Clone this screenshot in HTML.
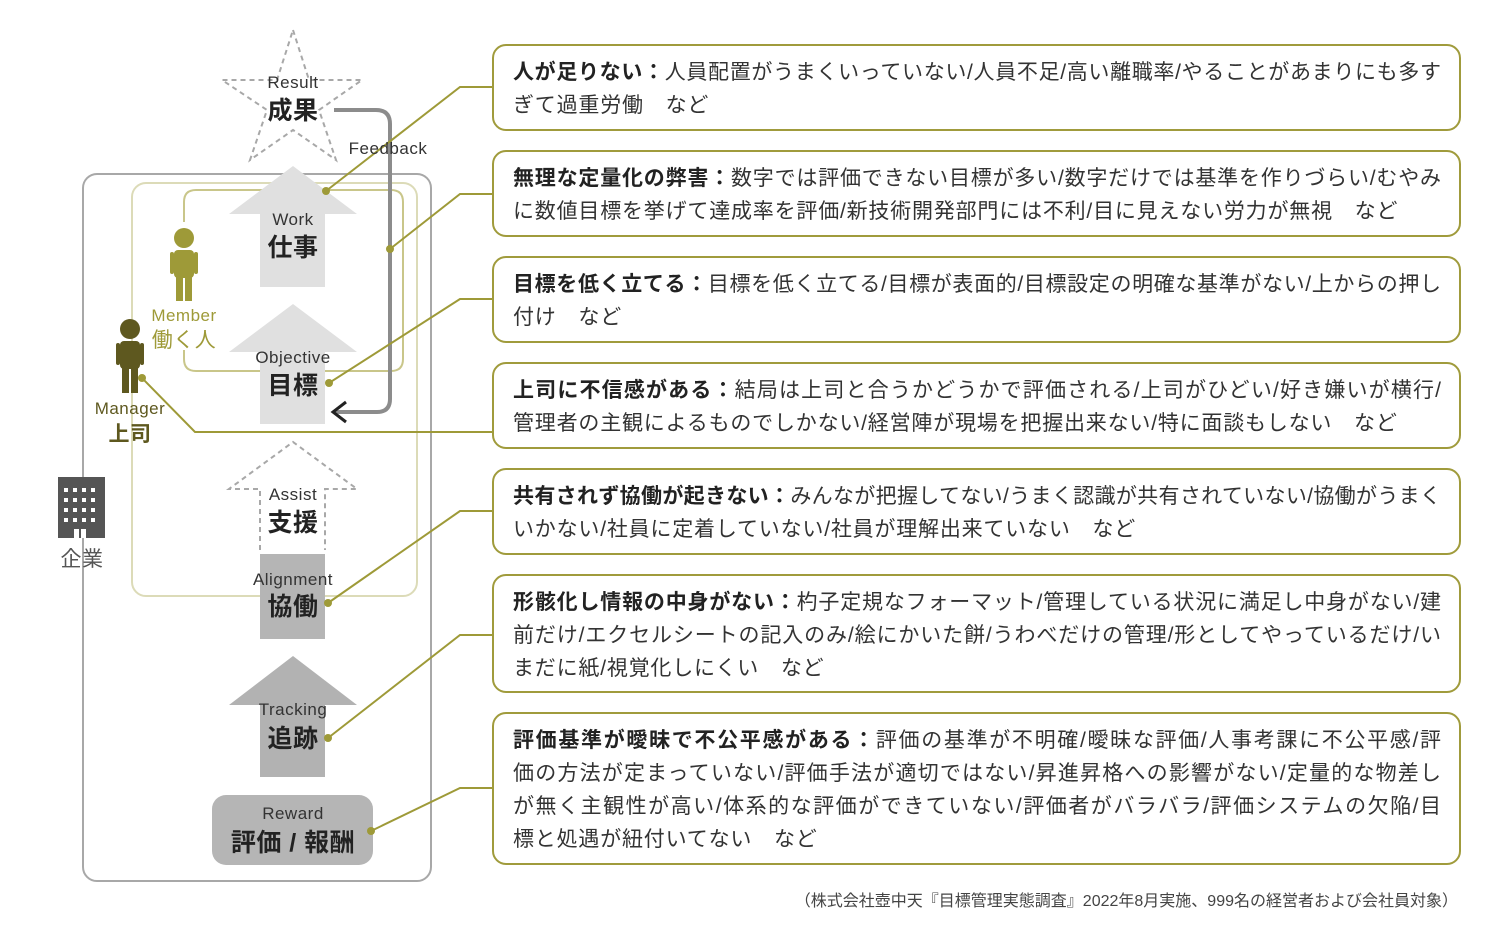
<!DOCTYPE html>
<html><head><meta charset="utf-8"><style>
body{margin:0;width:1510px;height:938px;background:#fff;position:relative;overflow:hidden;font-family:"Liberation Sans","Noto Sans CJK JP",sans-serif;color:#333}
.box{position:absolute;left:492px;width:969px;border:2px solid #a09b3c;border-radius:14px;box-sizing:border-box}
.box .t{position:absolute;left:19px;right:18px;top:10px;font-size:21px;line-height:33px}
.l{white-space:nowrap;text-align:justify;text-align-last:justify;height:33px}
.l.e{text-align-last:left;letter-spacing:0.8px}
b{color:#222;font-weight:bold}
svg{position:absolute;left:0;top:0}
.fn{position:absolute;right:52px;top:887px;font-size:16px;color:#444}
</style></head><body>
<svg width="1510" height="938" font-family="Liberation Sans, Noto Sans CJK JP, sans-serif">
<rect x="83" y="174" width="348" height="707" rx="14" fill="none" stroke="#a8a8a8" stroke-width="2"/>
<rect x="132" y="183" width="285" height="413" rx="14" fill="none" stroke="#dcdbb8" stroke-width="2"/>
<path d="M184 222 V202 Q184 190 196 190 H391 Q403 190 403 202 V359 Q403 371 391 371 H196 Q184 371 184 359 V350" fill="none" stroke="#c9c68a" stroke-width="2"/>
<polygon points="293,30 309,80 362,80 319,110 336,160 293,130 250,160 267,110 222,80 277,80" fill="#fff" stroke="#a8a8a8" stroke-width="2" stroke-dasharray="5,4"/>
<polygon points="293,166 357,214 325,214 325,287 260,287 260,214 229,214" fill="#e0e0e0"/>
<polygon points="293,304 357,352 325,352 325,424 260,424 260,352 229,352" fill="#e0e0e0"/>
<polyline points="260,550 260,489 229,489 293,442 357,489 325,489 325,550" fill="none" stroke="#a8a8a8" stroke-width="2" stroke-dasharray="5,4"/>
<rect x="260" y="554" width="65" height="85" fill="#b5b5b5"/>
<polygon points="293,656 357,705 325,705 325,777 260,777 260,705 229,705" fill="#b2b2b2"/>
<rect x="212" y="795" width="161" height="70" rx="14" fill="#b5b5b5"/>
<path d="M334 110 H376 Q390 110 390 124 V399 Q390 412 377 412 H335" fill="none" stroke="#8c8c8c" stroke-width="4"/>
<polyline points="346,402 333,412 346,422" fill="none" stroke="#222" stroke-width="3"/>
<g fill="#9e9a38">
<circle cx="184" cy="238" r="10"/>
<rect x="174" y="250" width="20" height="28" rx="4"/>
<rect x="170" y="252" width="4" height="22" rx="2"/><rect x="194" y="252" width="4" height="22" rx="2"/>
<rect x="176" y="276" width="7" height="25"/><rect x="185" y="276" width="7" height="25"/>
</g>
<g fill="#5e581f">
<circle cx="130" cy="329" r="10"/>
<rect x="120" y="341" width="20" height="28" rx="4"/>
<rect x="116" y="343" width="4" height="22" rx="2"/><rect x="140" y="343" width="4" height="22" rx="2"/>
<rect x="122" y="367" width="7" height="26"/><rect x="131" y="367" width="7" height="26"/>
</g>
<rect x="58" y="477" width="47" height="61" fill="#555"/>
<g fill="#fff">
<rect x="64" y="488" width="4" height="4"/><rect x="73" y="488" width="4" height="4"/><rect x="82" y="488" width="4" height="4"/><rect x="91" y="488" width="4" height="4"/>
<rect x="64" y="498" width="4" height="4"/><rect x="73" y="498" width="4" height="4"/><rect x="82" y="498" width="4" height="4"/><rect x="91" y="498" width="4" height="4"/>
<rect x="64" y="508" width="4" height="4"/><rect x="73" y="508" width="4" height="4"/><rect x="82" y="508" width="4" height="4"/><rect x="91" y="508" width="4" height="4"/>
<rect x="64" y="518" width="4" height="4"/><rect x="73" y="518" width="4" height="4"/><rect x="82" y="518" width="4" height="4"/><rect x="91" y="518" width="4" height="4"/>
<rect x="74" y="529" width="5" height="9"/><rect x="81" y="529" width="5" height="9"/>
</g>
<g fill="none" stroke="#9e9a38" stroke-width="2">
<polyline points="326,191 460,87 492,87"/>
<polyline points="390,249 460,194 492,194"/>
<polyline points="329,383 460,299 492,299"/>
<polyline points="142,378 195,432 492,432"/>
<polyline points="328,603 460,511 492,511"/>
<polyline points="328,738 460,635 492,635"/>
<polyline points="371,831 460,788 492,788"/>
</g>
<g fill="#9e9a38">
<circle cx="326" cy="191" r="4"/><circle cx="390" cy="249" r="4"/><circle cx="329" cy="383" r="4"/><circle cx="142" cy="378" r="4"/>
<circle cx="328" cy="603" r="4"/><circle cx="328" cy="738" r="4"/><circle cx="371" cy="831" r="4"/>
</g>
<g text-anchor="middle" fill="#333" letter-spacing="0.5">
<text x="293" y="88" font-size="17">Result</text>
<text x="293" y="119" font-size="25" font-weight="bold" fill="#222">成果</text>
<text x="388" y="154" font-size="17">Feedback</text>
<text x="293" y="225" font-size="17">Work</text>
<text x="293" y="256" font-size="25" font-weight="bold" fill="#222">仕事</text>
<text x="293" y="363" font-size="17">Objective</text>
<text x="293" y="394" font-size="25" font-weight="bold" fill="#222">目標</text>
<text x="293" y="500" font-size="17">Assist</text>
<text x="293" y="531" font-size="25" font-weight="bold" fill="#222">支援</text>
<text x="293" y="585" font-size="17">Alignment</text>
<text x="293" y="615" font-size="25" font-weight="bold" fill="#222">協働</text>
<text x="293" y="715" font-size="17">Tracking</text>
<text x="293" y="747" font-size="25" font-weight="bold" fill="#222">追跡</text>
<text x="293" y="819" font-size="17">Reward</text>
<text x="293" y="851" font-size="25" font-weight="bold" fill="#222">評価 / 報酬</text>
<text x="184" y="321" font-size="17" fill="#9e9a38">Member</text>
<text x="184" y="347" font-size="21" fill="#9e9a38">働く人</text>
<text x="130" y="414" font-size="17" fill="#5e581f">Manager</text>
<text x="130" y="441" font-size="21" fill="#5e581f" font-weight="bold">上司</text>
<text x="82" y="566" font-size="21" fill="#555">企業</text>
</g>
</svg>

<div class="box" style="top:44px;height:87px"><div class="t">
<div class="l"><b>人が足りない：</b>人員配置がうまくいっていない/人員不足/高い離職率/やることがあまりにも多す</div>
<div class="l e">ぎて過重労働　など</div></div></div>

<div class="box" style="top:150px;height:87px"><div class="t">
<div class="l"><b>無理な定量化の弊害：</b>数字では評価できない目標が多い/数字だけでは基準を作りづらい/むやみ</div>
<div class="l e">に数値目標を挙げて達成率を評価/新技術開発部門には不利/目に見えない労力が無視　など</div></div></div>

<div class="box" style="top:256px;height:87px"><div class="t">
<div class="l"><b>目標を低く立てる：</b>目標を低く立てる/目標が表面的/目標設定の明確な基準がない/上からの押し</div>
<div class="l e">付け　など</div></div></div>

<div class="box" style="top:362px;height:87px"><div class="t">
<div class="l"><b>上司に不信感がある：</b>結局は上司と合うかどうかで評価される/上司がひどい/好き嫌いが横行/</div>
<div class="l e">管理者の主観によるものでしかない/経営陣が現場を把握出来ない/特に面談もしない　など</div></div></div>

<div class="box" style="top:468px;height:87px"><div class="t">
<div class="l"><b>共有されず協働が起きない：</b>みんなが把握してない/うまく認識が共有されていない/協働がうまく</div>
<div class="l e">いかない/社員に定着していない/社員が理解出来ていない　など</div></div></div>

<div class="box" style="top:574px;height:119px"><div class="t">
<div class="l"><b>形骸化し情報の中身がない：</b>杓子定規なフォーマット/管理している状況に満足し中身がない/建</div>
<div class="l">前だけ/エクセルシートの記入のみ/絵にかいた餅/うわべだけの管理/形としてやっているだけ/い</div>
<div class="l e">まだに紙/視覚化しにくい　など</div></div></div>

<div class="box" style="top:712px;height:153px"><div class="t">
<div class="l"><b>評価基準が曖昧で不公平感がある：</b>評価の基準が不明確/曖昧な評価/人事考課に不公平感/評</div>
<div class="l">価の方法が定まっていない/評価手法が適切ではない/昇進昇格への影響がない/定量的な物差し</div>
<div class="l">が無く主観性が高い/体系的な評価ができていない/評価者がバラバラ/評価システムの欠陥/目</div>
<div class="l e">標と処遇が紐付いてない　など</div></div></div>

<div class="fn">（株式会社壺中天『目標管理実態調査』2022年8月実施、999名の経営者および会社員対象）</div>
</body></html>
